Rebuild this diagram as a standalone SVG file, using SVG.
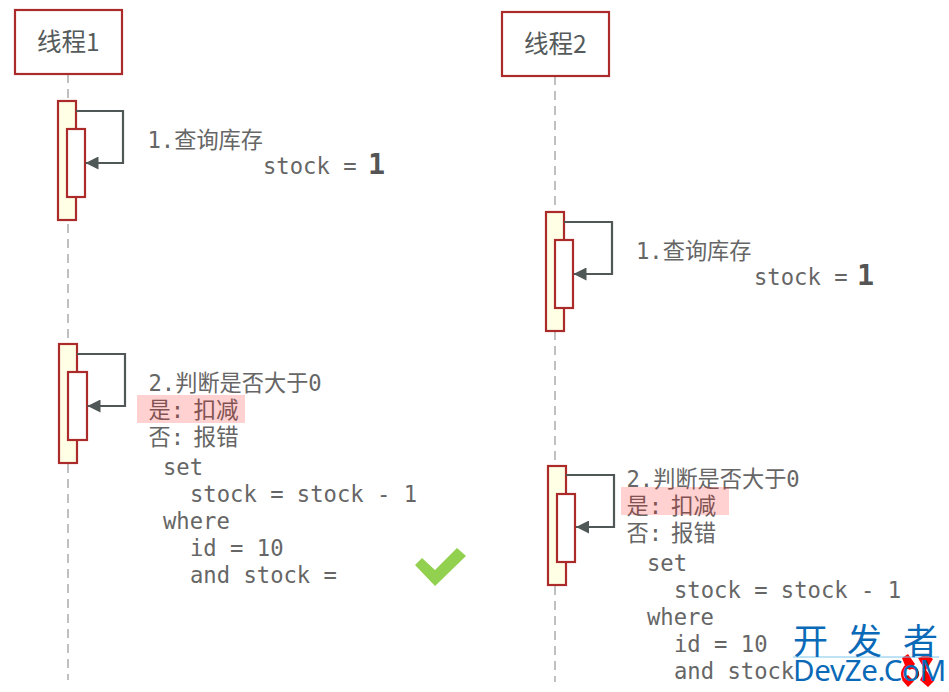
<svg xmlns="http://www.w3.org/2000/svg" width="949" height="692" viewBox="0 0 949 692">
<style>
.life{stroke:#c0c0c0;stroke-width:2;stroke-dasharray:9 6;fill:none}
.head{fill:#fff;stroke:#ab2a2a;stroke-width:2.2}
.act{fill:#ffffe6;stroke:#ab2a2a;stroke-width:2.2}
.sub{fill:#fff;stroke:#ab2a2a;stroke-width:2.2}
.conn{fill:none;stroke:#505757;stroke-width:2.2;marker-end:url(#arrow)}
.title{font:24.5px "Noto Sans CJK SC","Noto Sans",sans-serif;fill:#555b5b}
.t{font:22.2px "DejaVu Sans Mono","Noto Sans CJK SC",monospace;fill:#666}
.c{font-size:22.6px}
.big{font:bold 28.5px "DejaVu Sans Mono",monospace;fill:#555}
.hl{fill:#ff0000;fill-opacity:.18}
.wm{font-family:"Noto Sans",sans-serif;fill:#0a6ab8;font-size:29.5px;letter-spacing:-.3px}
.wc{font-family:"Noto Sans CJK SC",sans-serif;fill:#0a6ab8;font-size:35px}
</style>
<defs>
<marker id="arrow" markerUnits="userSpaceOnUse" markerWidth="14" markerHeight="13" refX="13" refY="6.5" orient="auto"><path d="M0 0L13 6.5L0 13Z" fill="#505757"/></marker>
</defs>
<rect width="949" height="692" fill="#fff"/>
<g id="lifelines">
<line class="life" x1="68" y1="74" x2="68" y2="680"/>
<line class="life" x1="555" y1="76" x2="555" y2="682"/>
</g>
<g id="thread1"><rect class="head" x="15" y="10" width="107" height="64"/><text class="title" x="37" y="51">线程1</text></g>
<g id="thread2"><rect class="head" x="502" y="12" width="107" height="64"/><text class="title" x="524" y="53">线程2</text></g>
<g id="act-1a"><rect class="act" x="58" y="101" width="18" height="119"/><rect class="sub" x="67" y="129" width="18" height="68"/></g>
<g id="act-1b"><rect class="act" x="59" y="344" width="18" height="119"/><rect class="sub" x="68" y="372" width="19" height="68"/></g>
<g id="act-2a"><rect class="act" x="546" y="212" width="18" height="119"/><rect class="sub" x="555" y="240" width="18" height="68"/></g>
<g id="act-2b"><rect class="act" x="548" y="466" width="18" height="119"/><rect class="sub" x="557" y="494" width="18" height="68"/></g>
<g id="connectors">
<path class="conn" d="M76 111H123V163H85.500"/>
<path class="conn" d="M77 354H125V406H87.500"/>
<path class="conn" d="M564 222H612V274H573.500"/>
<path class="conn" d="M566 475H614V527H576"/>
</g>
<g id="label-1a">
<text class="t" x="147.500" y="148">1.查询库存</text>
<text class="t" x="263" y="174">stock = </text>
<text class="big" x="368" y="174">1</text>
</g>
<g id="label-2a">
<text class="t" x="636" y="259">1.查询库存</text>
<text class="t" x="754" y="285">stock = </text>
<text class="big" x="857" y="285">1</text>
</g>
<g id="label-1b">
<text class="t" x="148.500" y="391">2.判断是否大于0</text>
<text class="t" x="148.500" y="418">是:<tspan class="c" x="193.500">扣减</tspan></text>
<text class="t" x="148.500" y="445">否:<tspan class="c" x="193.500">报错</tspan></text>
<text class="t" x="163" y="475">set</text>
<text class="t" x="190" y="502">stock = stock - 1</text>
<text class="t" x="163" y="529">where</text>
<text class="t" x="190" y="556">id = 10</text>
<text class="t" x="190" y="583">and stock = </text>
<rect class="hl" x="137" y="395" width="108" height="28"/>
</g>
<g id="label-2b">
<text class="t" x="626.500" y="487">2.判断是否大于0</text>
<text class="t" x="626.500" y="514">是:<tspan class="c" x="671">扣减</tspan></text>
<text class="t" x="626.500" y="541">否:<tspan class="c" x="671">报错</tspan></text>
<text class="t" x="647" y="571">set</text>
<text class="t" x="674" y="598">stock = stock - 1</text>
<text class="t" x="647" y="625">where</text>
<text class="t" x="674" y="652">id = 10</text>
<text class="t" x="674" y="679">and stock</text>
<rect class="hl" x="621" y="487" width="108" height="28"/>
</g>
<g id="check"><path d="M415 565L422 558L435 570L457 548L466 556L435 586Z" fill="#92d050"/></g>
<g id="watermark">
<path d="M902 658L908 654L915 664L910 670L906 668ZM902 680L908 675L914 681L908 687ZM918 658L927 654L933 659L926 670L934 681L928 687L920 680L925 670Z" fill="#f00"/>
<path d="M906 666C900 672 902 680 907 682M910 668A6 6 0 0 1 916 678" fill="none" stroke="#f00" stroke-width="2.500"/>
<line x1="793" y1="657" x2="939" y2="657" stroke="#7cc4ec" stroke-width="1"/>
<text class="wc" x="793" y="654">开</text>
<text class="wc" x="847" y="654">发</text>
<text class="wc" x="903" y="654">者</text>
<text class="wm" x="793" y="681">DevZe.CoM</text>
</g>
</svg>
